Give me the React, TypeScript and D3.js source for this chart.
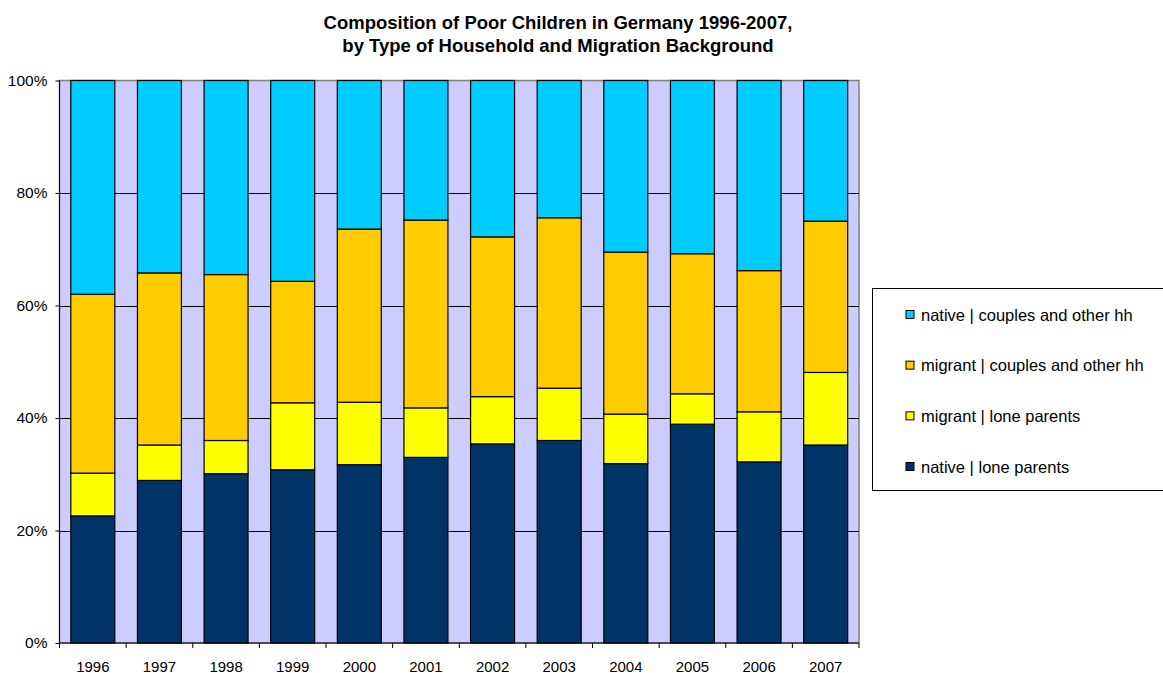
import * as React from 'react';
import * as d3 from 'd3';

const years = ['1996', '1997', '1998', '1999', '2000', '2001', '2002', '2003', '2004', '2005', '2006', '2007'];

// shares in percent, bottom segment first
const nativeLone = [22.6, 28.9, 30.1, 30.8, 31.7, 33.0, 35.4, 36.0, 31.9, 38.9, 32.2, 35.2];
const migrantLone = [7.6, 6.3, 5.9, 11.9, 11.1, 8.8, 8.4, 9.3, 8.8, 5.4, 8.9, 12.9];
const migrantCouples = [31.8, 30.6, 29.5, 21.6, 30.8, 33.4, 28.4, 30.3, 28.8, 24.9, 25.1, 26.9];
const nativeCouples = [38.0, 34.2, 34.5, 35.7, 26.4, 24.8, 27.8, 24.4, 30.5, 30.8, 33.8, 25.0];

const seriesKeys = ['nativeLone', 'migrantLone', 'migrantCouples', 'nativeCouples'];
const seriesLabels = {
  nativeLone: 'native | lone parents',
  migrantLone: 'migrant | lone parents',
  migrantCouples: 'migrant | couples and other hh',
  nativeCouples: 'native | couples and other hh',
};
const seriesColors = ['#003366', '#FFFF00', '#FFCC00', '#00CCFF'];
const yTicks = [0, 0.2, 0.4, 0.6, 0.8, 1];

const font = '"Liberation Sans", Arial, sans-serif';

class App extends React.Component {
  private element;

  componentDidMount() {
    this.init();
  }

  init() {
    const svg = d3.select(this.element);
    svg.selectAll('*').remove();

    const plot = {left: 59.5, right: 859, top: 80.5, bottom: 643};

    const rows = years.map((year, i) => ({
      year,
      nativeLone: nativeLone[i],
      migrantLone: migrantLone[i],
      migrantCouples: migrantCouples[i],
      nativeCouples: nativeCouples[i],
    }));

    const stacked = d3.stack().keys(seriesKeys).offset(d3.stackOffsetExpand)(rows as any);

    const x = d3.scaleBand().domain(years)
      .range([plot.left, plot.right])
      .paddingInner(0.34).paddingOuter(0.17);

    const y = d3.scaleLinear().domain([0, 1]).range([plot.bottom, plot.top]);

    // title
    const title = svg.append('text')
      .attr('x', 558)
      .attr('text-anchor', 'middle')
      .attr('font-family', font)
      .attr('font-weight', 'bold')
      .attr('font-size', '18.5px');
    title.append('tspan').attr('x', 558).attr('y', 29).text('Composition of Poor Children in Germany 1996-2007,');
    title.append('tspan').attr('x', 558).attr('y', 52).text('by Type of Household and Migration Background');

    // plot background
    svg.append('rect')
      .attr('x', plot.left)
      .attr('y', plot.top)
      .attr('width', plot.right - plot.left)
      .attr('height', plot.bottom - plot.top)
      .attr('fill', '#CCCCFF')
      .attr('stroke', '#808080')
      .attr('stroke-width', 1.5);

    // gridlines
    svg.append('g')
      .selectAll('line')
      .data(yTicks.filter(t => t > 0 && t < 1))
      .enter()
      .append('line')
      .attr('x1', plot.left)
      .attr('x2', plot.right)
      .attr('y1', d => Math.round(y(d)) + 0.5)
      .attr('y2', d => Math.round(y(d)) + 0.5)
      .attr('stroke', '#000');

    // bars
    svg.append('g')
      .selectAll('g')
      .data(stacked)
      .enter()
      .append('g')
      .attr('fill', (d, i) => seriesColors[i])
      .selectAll('rect')
      .data(d => d)
      .enter()
      .append('rect')
      .attr('x', (d: any) => x(d.data.year))
      .attr('y', d => y(d[1]))
      .attr('width', x.bandwidth())
      .attr('height', d => y(d[0]) - y(d[1]))
      .attr('stroke', '#000')
      .attr('stroke-width', 1.2);

    // y axis
    const yAxis = d3.axisLeft(y)
      .tickValues(yTicks)
      .tickSize(4)
      .tickPadding(8)
      .tickFormat((d: any) => `${Math.round(d * 100)}%`);
    const yAxisGroup = svg.append('g')
      .attr('transform', `translate(${plot.left}, 0)`)
      .call(yAxis);
    yAxisGroup.select('.domain').attr('stroke', '#000').attr('d', `M0,${plot.top}V${plot.bottom}`);
    yAxisGroup.selectAll('text')
      .attr('font-family', font)
      .attr('font-size', '15.5px')
      .attr('fill', '#000');

    // x axis, ticks on category boundaries
    const xAxisGroup = svg.append('g')
      .attr('transform', `translate(0, ${plot.bottom})`);
    xAxisGroup.append('line')
      .attr('x1', plot.left)
      .attr('x2', plot.right)
      .attr('stroke', '#000');
    const step = x.step();
    xAxisGroup.selectAll('line.tick')
      .data(d3.range(years.length + 1))
      .enter()
      .append('line')
      .attr('class', 'tick')
      .attr('x1', i => plot.left + i * step)
      .attr('x2', i => plot.left + i * step)
      .attr('y1', 0)
      .attr('y2', 5)
      .attr('stroke', '#000');
    xAxisGroup.selectAll('text')
      .data(years)
      .enter()
      .append('text')
      .attr('x', d => x(d) + x.bandwidth() / 2)
      .attr('y', 28.5)
      .attr('text-anchor', 'middle')
      .attr('font-family', font)
      .attr('font-size', '15px')
      .text(d => d);

    // legend
    const legend = svg.append('g');
    legend.append('rect')
      .attr('x', 872.5)
      .attr('y', 288.5)
      .attr('width', 300)
      .attr('height', 202)
      .attr('fill', '#fff')
      .attr('stroke', '#000');
    const legendOrder = [...seriesKeys].reverse();
    const legendY = d3.scalePoint().domain(legendOrder).range([314.5, 466.5]);
    const items = legend.selectAll('g.item')
      .data(legendOrder)
      .enter()
      .append('g')
      .attr('class', 'item')
      .attr('transform', d => `translate(0, ${legendY(d)})`);
    items.append('rect')
      .attr('x', 906)
      .attr('y', -4)
      .attr('width', 8)
      .attr('height', 8)
      .attr('fill', d => seriesColors[seriesKeys.indexOf(d)])
      .attr('stroke', '#000');
    items.append('text')
      .attr('x', 921)
      .attr('y', 6)
      .attr('font-family', font)
      .attr('font-size', '16.5px')
      .text(d => seriesLabels[d]);
  }

  render() {
    return (
      <svg
        ref={(ref) => (this.element = ref)}
        width={1163}
        height={673}
        style={{position: 'absolute', left: 0, top: 0, background: '#fff'}}
      />
    );
  }
}

export default App;
